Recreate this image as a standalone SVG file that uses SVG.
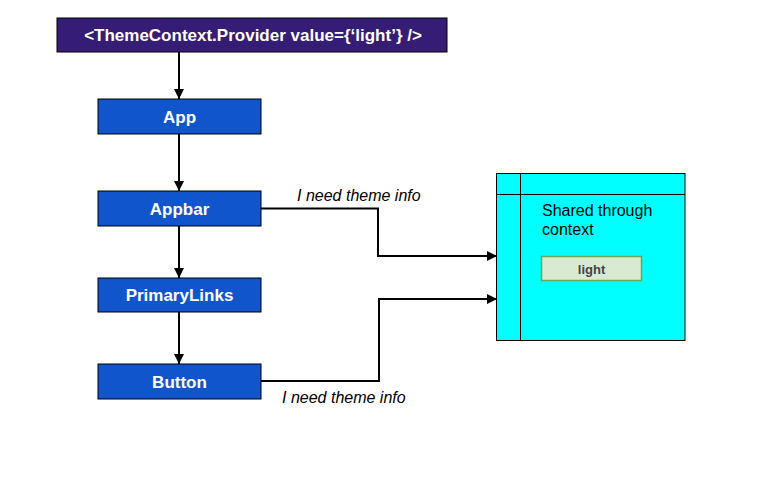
<svg xmlns="http://www.w3.org/2000/svg" width="783" height="493" viewBox="0 0 783 493">
<defs>
<marker id="ah" viewBox="0 0 10 10" refX="10" refY="5" markerWidth="10" markerHeight="10" markerUnits="userSpaceOnUse" orient="auto">
<path d="M0,0 L10,5 L0,10 z" fill="#000"/>
</marker>
<style>
.n{fill:#1155cc;stroke:#000;stroke-width:1}
.t{font-family:"Liberation Sans",Arial,sans-serif;font-weight:bold;font-size:17px;fill:#fff;text-anchor:middle}
.c{fill:none;stroke:#000;stroke-width:2}
.lab{font-family:"Liberation Sans",Arial,sans-serif;font-style:italic;font-size:16px;fill:#000}
</style>
</defs>
<rect width="783" height="493" fill="#fff"/>
<g id="connectors">
<path class="c" d="M179,52 V99" marker-end="url(#ah)"/>
<path class="c" d="M179,134 V191" marker-end="url(#ah)"/>
<path class="c" d="M179,226 V278" marker-end="url(#ah)"/>
<path class="c" d="M179,312 V364" marker-end="url(#ah)"/>
<path class="c" d="M261,208.5 H378 V256 H497" marker-end="url(#ah)"/>
<path class="c" d="M261,381 H379 V299 H497" marker-end="url(#ah)"/>
<text class="lab" x="297" y="201">I need theme info</text>
<text class="lab" x="282" y="403">I need theme info</text>
</g>
<g id="provider">
<rect x="57" y="18" width="390" height="34" fill="#351c75" stroke="#000" stroke-width="1"/>
<text class="t" x="253" y="41">&lt;ThemeContext.Provider value={‘light’} /&gt;</text>
</g>
<g id="app">
<rect class="n" x="98" y="99" width="163" height="35"/>
<text class="t" x="179.5" y="122.5">App</text>
</g>
<g id="appbar">
<rect class="n" x="98" y="191" width="163" height="35"/>
<text class="t" x="179.5" y="214.5">Appbar</text>
</g>
<g id="primarylinks">
<rect class="n" x="98" y="278" width="163" height="34"/>
<text class="t" x="179.5" y="301">PrimaryLinks</text>
</g>
<g id="button">
<rect class="n" x="98" y="364" width="163" height="35"/>
<text class="t" x="179.5" y="387.5">Button</text>
</g>
<g id="context">
<rect x="496.5" y="173.5" width="188.5" height="167" fill="#00ffff" stroke="#000" stroke-width="1"/>
<line x1="520.5" y1="173.5" x2="520.5" y2="340.5" stroke="#000" stroke-width="1"/>
<line x1="496.5" y1="194.5" x2="685" y2="194.5" stroke="#000" stroke-width="1"/>
<text font-family="Liberation Sans, Arial, sans-serif" font-size="16" fill="#000"><tspan x="542" y="216">Shared through</tspan><tspan x="542" y="235">context</tspan></text>
</g>
<g id="light">
<rect x="541.5" y="256.5" width="100" height="24" fill="#d9ead3" stroke="#6aa84f" stroke-width="1.5"/>
<text x="591.5" y="273.5" font-family="Liberation Sans, Arial, sans-serif" font-weight="bold" font-size="13" fill="#434343" text-anchor="middle">light</text>
</g>
</svg>
